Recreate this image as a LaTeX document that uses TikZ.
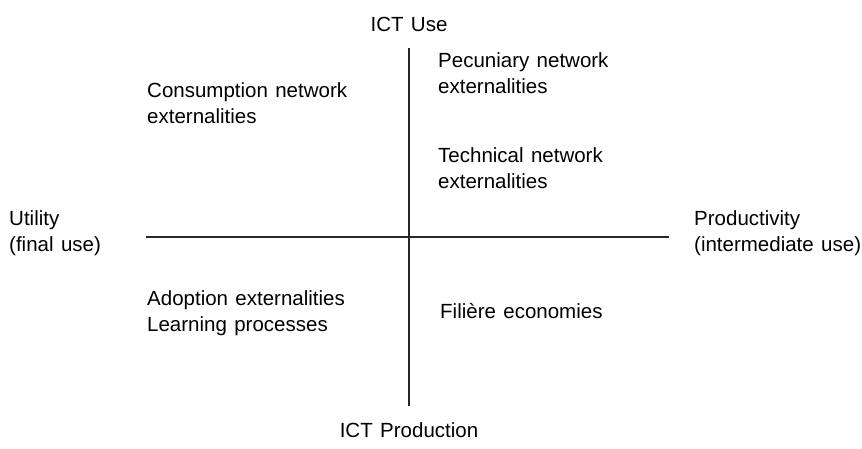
\documentclass[tikz,border=0pt]{standalone}
\usepackage{fontspec}
\setmainfont{Liberation Sans}
\newcommand{\axisfont}{\fontsize{20.5}{26}\selectfont\spaceskip=0.36em plus 0.1em\relax}
\begin{document}
\begin{tikzpicture}[x=1pt,y=-1pt,
  lbl/.style={anchor=base west,inner sep=0pt,align=left,font=\axisfont},
  ctr/.style={anchor=base,inner sep=0pt,font=\axisfont},
  axis/.style={line width=1.6pt,black!85}]
\useasboundingbox (0,0) rectangle (862,448);
% axes
\coordinate (top) at (409,48);
\coordinate (bot) at (409,406);
\coordinate (lft) at (146,237);
\coordinate (rgt) at (669,237);
\draw[axis] (top) -- (bot);
\draw[axis] (lft) -- (rgt);
% axis labels (base anchor of a two-line node sits on its last line)
\node[ctr] (use) at (409,31) {ICT Use};
\node[ctr] (prod) at (409,437) {ICT Production};
\node[lbl] (util) at (9,251) {Utility\\(final use)};
\node[lbl] (prdv) at (694,251) {Productivity\\(intermediate use)};
% quadrant texts
\node[lbl] (cons) at (147,123) {Consumption network\\externalities};
\node[lbl] (pecu) at (438,93) {Pecuniary network\\externalities};
\node[lbl] (tech) at (438,188) {Technical network\\externalities};
\node[lbl] (adop) at (147,331) {Adoption externalities\\Learning processes};
\node[lbl] (fili) at (440,318) {Filière economies};
\end{tikzpicture}
\end{document}
